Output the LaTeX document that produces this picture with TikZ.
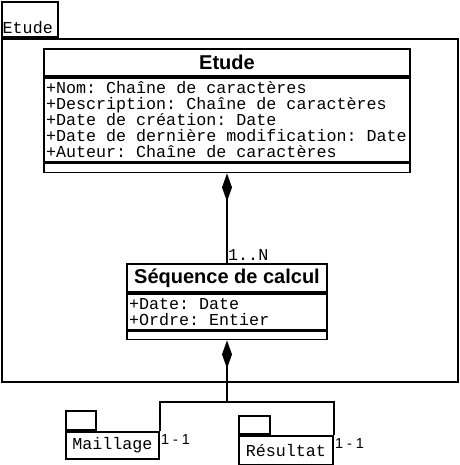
\documentclass[tikz,border=0pt]{standalone}
\usepackage{fontspec}
\setsansfont{Liberation Sans}
\newfontfamily\umlmono{Liberation Mono}
\newcommand\monospaces{\spaceskip=0.6em\xspaceskip=0.6em\relax}
\usetikzlibrary{arrows.meta}
\usetikzlibrary{positioning}

\tikzset{
  uml/.style = {draw, line width=1.8pt, inner sep=0pt},
  classhead/.style = {uml, anchor=north, font=\sffamily\bfseries\fontsize{20}{20}\selectfont},
  classattr/.style = {uml, inner sep=2pt, align=left, font=\umlmono\fontsize{16.7}{16}\selectfont},
  classops/.style = {uml},
  pkgtab/.style = {uml, anchor=north west},
  pkgbody/.style = {uml, anchor=north west, font=\umlmono\fontsize{16.7}{16}\selectfont},
  comp/.style = {line width=1.8pt, -{Diamond[length=28pt,width=10pt]}},
  assoc/.style = {line width=1.8pt},
  mult/.style = {inner sep=0pt, font=\umlmono\fontsize{16.7}{16}\selectfont},
  multone/.style = {inner sep=0pt, anchor=north west, font=\sffamily\fontsize{14.5}{14}\selectfont}
}

\begin{document}
\begin{tikzpicture}[x=1pt, y=-1pt]
    \fill [white] (0,0) rectangle (459,465);
    \useasboundingbox (0,0) rectangle (459,465);

    % package Etude
    \node (etudeTab) [pkgtab, minimum width=56pt, minimum height=35pt] at (1,1) {};
    \node (etudeTabText) [anchor=south west, inner xsep=1.5pt, inner ysep=4pt, font=\umlmono\fontsize{16.7}{16}\selectfont] at (etudeTab.south west) {Etude};
    \node (etudeBody) [pkgbody, minimum width=456pt, minimum height=343pt] at (etudeTab.south west) {};

    % class Etude
    \node (etudeHead) [classhead, minimum width=366pt, minimum height=27pt] at (227,48) {Etude};
    \node (etudeAttr) [classattr, text width=362pt, minimum height=84pt, below = 0pt of etudeHead]
      {\monospaces+Nom: Chaîne de caractères\\+Description: Chaîne de caractères\\+Date de création: Date\\+Date de dernière modification: Date\\+Auteur: Chaîne de caractères};
    \node (etudeOps) [classops, minimum width=366pt, minimum height=9pt, below = 0pt of etudeAttr] {};

    % class Sequence de calcul
    \node (seqHead) [classhead, minimum width=200pt, minimum height=28pt] at (227,263) {Séquence de calcul};
    \node (seqAttr) [classattr, text width=196pt, minimum height=36pt, below = 0pt of seqHead]
      {\monospaces+Date: Date\\+Ordre: Entier};
    \node (seqOps) [classops, minimum width=200pt, minimum height=8pt, below = 0pt of seqAttr] {};

    % packages Maillage and Resultat
    \node (maillageTab) [pkgtab, minimum width=30pt, minimum height=19pt] at (65,410) {};
    \node (maillageBody) [pkgbody, minimum width=93pt, minimum height=27pt] at (maillageTab.south west) {Maillage};
    \node (resultatTab) [pkgtab, minimum width=31pt, minimum height=18pt] at (238,415) {};
    \node (resultatBody) [pkgbody, minimum width=94pt, minimum height=29pt] at (resultatTab.south west) {Résultat};

    % compositions
    \draw [comp] (seqHead.north) -- (etudeOps.south);
    \node (multSeq) [mult, anchor=west] at (228,255) {1..N};

    \coordinate (fork) at (227,402);
    \draw [comp] (fork) -- (seqOps.south);
    \draw [assoc] (maillageBody.north east) |- (fork) -| (resultatBody.north east);

    \node (multMaillage) [multone, xshift=1pt, yshift=-4pt] at (maillageBody.north east) {1 - 1};
    \node (multResultat) [multone, xshift=1pt, yshift=-4pt] at (resultatBody.north east) {1 - 1};
  \end{tikzpicture}
\end{document}
